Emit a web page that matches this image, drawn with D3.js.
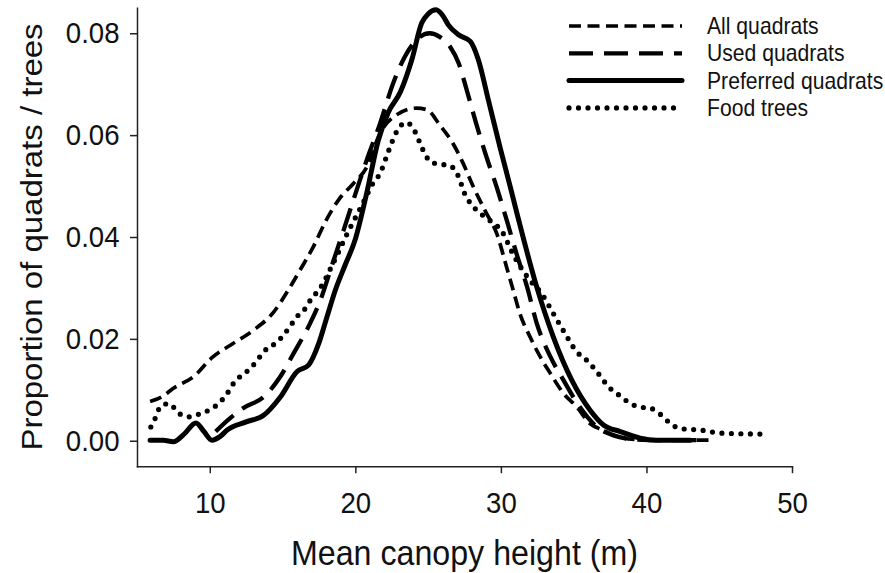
<!DOCTYPE html>
<meta charset="utf-8">
<style>
body { margin: 0; background: #fff; }
svg { font-family: "Liberation Sans", Arial, Helvetica, sans-serif; }
.axis path, .axis line { stroke: #222; stroke-width: 1.5; }
.axis text { fill: #111; font-size: 30px; }
.title { fill: #111; text-anchor: middle; }
.legend text { fill: #111; font-size: 23px; }
.curve { fill: none; stroke: #000; }
</style>
<body>
<script src="https://d3js.org/d3.v7.min.js"></script>
<script>
var w = 885, h = 573;

// data: [mean canopy height (m), proportion]
var allQuadrats = [[5.9,0.0077],[6.7,0.0086],[7.5,0.0103],[8.9,0.0126],[10.15,0.0163],[11.6,0.0191],[13.0,0.0217],[14.4,0.0253],[15.4,0.0296],[16.2,0.0335],[17.1,0.038],[18.0,0.0433],[18.9,0.0475],[19.87,0.0505],[20.8,0.0538],[21.7,0.0604],[22.84,0.064],[24.2,0.0653],[24.9,0.065],[25.8,0.062],[26.7,0.0584],[27.4,0.0545],[28.1,0.0499],[29.0,0.0447],[29.7,0.0408],[30.4,0.034],[30.9,0.029],[31.3,0.025],[32.0,0.0204],[32.7,0.0165],[33.4,0.0132],[34.3,0.0093],[35.2,0.0067],[36.1,0.0034],[37.0,0.0021],[38.0,0.0008],[39.5,0.0002],[42,0.0001],[44.5,0.0001]];

var usedQuadrats = [[10.4,0.0018],[11.3,0.0042],[12.3,0.0064],[13.7,0.0086],[14.85,0.0126],[15.77,0.0172],[16.9,0.0231],[17.6,0.0276],[18.4,0.0345],[19.2,0.0414],[19.87,0.0473],[20.78,0.0551],[21.7,0.0623],[22.6,0.0702],[23.4,0.0754],[24.2,0.0787],[25.1,0.080],[25.8,0.0793],[26.5,0.0774],[27.1,0.0741],[27.65,0.0689],[28.3,0.0623],[29.0,0.0558],[29.7,0.0499],[30.4,0.0433],[31.1,0.0365],[31.8,0.0302],[32.47,0.023],[33.4,0.0165],[34.3,0.0119],[35.4,0.0067],[36.6,0.0027],[37.7,0.0011],[39.0,0.0003],[41,0.0001],[43.5,0.0001]];

var preferredQuadrats = [[5.9,0.0001],[6.8,0.0001],[7.5,-0.0002],[8.2,0.0012],[9.05,0.0035],[9.6,0.0018],[10.15,0.0001],[10.7,0.0008],[11.2,0.0021],[12.5,0.0037],[13.7,0.005],[14.85,0.0086],[16.0,0.0136],[16.8,0.0149],[17.5,0.0192],[18.06,0.0244],[18.63,0.0296],[19.3,0.0345],[19.98,0.0394],[20.78,0.0486],[21.58,0.059],[22.27,0.0645],[23.1,0.0685],[23.88,0.0748],[24.56,0.082],[25.0,0.0838],[25.55,0.0846],[26.0,0.0835],[26.4,0.0816],[27.09,0.0797],[27.9,0.0784],[28.45,0.0748],[29.14,0.0669],[29.95,0.0575],[30.64,0.0499],[31.1,0.0447],[32.4,0.0308],[33.6,0.0204],[34.87,0.0119],[36.13,0.006],[37.05,0.0031],[38.2,0.0018],[39.57,0.0005],[40.7,0.0001],[43.0,0.0001]];

var foodTrees = [[5.95,0.0027],[6.3,0.0047],[6.6,0.0067],[7.2,0.0073],[7.87,0.0054],[8.55,0.0047],[9.24,0.0052],[9.93,0.006],[10.6,0.0073],[11.2,0.0093],[11.64,0.0113],[12.2,0.0129],[12.8,0.0142],[13.36,0.0162],[13.93,0.0181],[14.5,0.0191],[15.08,0.0208],[15.5,0.0224],[16.0,0.0244],[16.57,0.026],[17.0,0.028],[17.5,0.0296],[18.5,0.035],[19.5,0.041],[20.5,0.0465],[21.2,0.0505],[21.7,0.0525],[22.27,0.0568],[22.84,0.0607],[23.5,0.0625],[24.1,0.0607],[24.45,0.0584],[24.8,0.0562],[25.2,0.0547],[25.8,0.0543],[26.5,0.054],[27.1,0.0518],[27.5,0.0486],[28.0,0.0463],[28.57,0.0447],[29.0,0.0437],[29.8,0.042],[30.3,0.040],[30.6,0.038],[31.2,0.0348],[32.0,0.0315],[32.8,0.0289],[33.6,0.025],[34.4,0.0211],[35.2,0.0175],[35.9,0.0158],[36.5,0.0139],[37.5,0.0103],[38.2,0.0088],[38.9,0.0073],[39.6,0.0066],[40.26,0.0064],[40.95,0.0052],[41.6,0.0035],[42.3,0.0024],[43.7,0.0021],[45.1,0.0015],[48.0,0.0013]];

var seriesNames = ["All quadrats", "Used quadrats", "Preferred quadrats", "Food trees"];
var xTicks = [10, 20, 30, 40, 50];
var yTicks = [0, 0.02, 0.04, 0.06, 0.08];

var styles = [
    {width: 3.7, dash: "12,6.5", cap: "butt"},
    {width: 4.3, dash: "24,11", cap: "butt"},
    {width: 5, dash: null, cap: "round"},
    {width: 5.2, dash: "0,9.5", cap: "round"}
];

// the figure's lettering is a little narrow
var squeeze = 0.92;

var svg = d3.select("body").append("svg")
    .attr("width", w)
    .attr("height", h);

var x = d3.scaleLinear().domain([5, 50]).range([137, 792]);
var y = d3.scaleLinear().domain([-0.005, 0.085]).range([466.2, 7.8]);

svg.append("g")
    .attr("class", "axis")
    .attr("transform", "translate(0,466.2)")
    .call(d3.axisBottom(x).tickValues(xTicks).tickSize(7).tickSizeOuter(0).tickPadding(19))
    .selectAll("text")
    .attr("dy", "0.71em")
    .attr("transform", "scale(" + squeeze + ",1)");

svg.append("g")
    .attr("class", "axis")
    .attr("transform", "translate(137,0)")
    .call(d3.axisLeft(y).tickValues(yTicks).tickFormat(d3.format(".2f")).tickSize(7).tickSizeOuter(0).tickPadding(12))
    .selectAll("text")
    .attr("transform", "scale(" + squeeze + ",1)");

svg.selectAll(".axis .domain").attr("stroke-linecap", "square");

var line = d3.line()
    .x(function(d){ return x(d[0]); })
    .y(function(d){ return y(d[1]); })
    .curve(d3.curveMonotoneX);

var allSeries = [allQuadrats, usedQuadrats, preferredQuadrats, foodTrees];

svg.append("g")
    .selectAll("path")
    .data(allSeries)
    .enter()
    .append("path")
    .attr("class", "curve")
    .attr("d", line)
    .attr("stroke-width", function(d, i){ return styles[i].width; })
    .attr("stroke-dasharray", function(d, i){ return styles[i].dash; })
    .attr("stroke-linecap", function(d, i){ return styles[i].cap; })
    .attr("stroke-linejoin", "round");

// axis titles
svg.append("text")
    .attr("class", "title")
    .attr("font-size", 35)
    .attr("transform", "translate(" + x(27.5) + ",565) scale(" + squeeze + ",1)")
    .text("Mean canopy height (m)");

svg.append("text")
    .attr("class", "title")
    .attr("font-size", 33)
    .attr("transform", "translate(42," + y(0.04) + ") rotate(-90) scale(1," + squeeze + ")")
    .text("Proportion of quadrats / trees");

// legend
var legend = svg.append("g").attr("class", "legend")
    .selectAll("g")
    .data(seriesNames)
    .enter()
    .append("g")
    .attr("transform", function(d, i){ return "translate(0," + (26 + i * 27.3) + ")"; });

legend.append("line")
    .attr("x1", 569).attr("x2", 682)
    .attr("stroke", "#000")
    .attr("stroke-width", function(d, i){ return styles[i].width; })
    .attr("stroke-dasharray", function(d, i){ return styles[i].dash; })
    .attr("stroke-linecap", function(d, i){ return styles[i].cap; });

legend.append("text")
    .attr("transform", "translate(707,0) scale(" + squeeze + ",1)")
    .attr("dy", "0.35em")
    .text(function(d){ return d; });
</script>
</body>
